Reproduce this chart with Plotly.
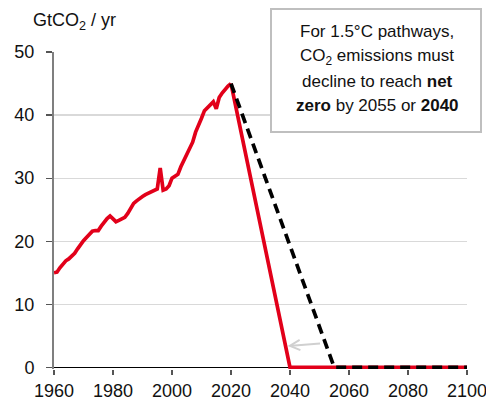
import plotly.graph_objects as go

# Historical CO2 emissions (GtCO2/yr)
hist_years = list(range(1960, 2021))
hist_values = [
    15.0, 15.1, 15.8, 16.4, 16.9, 17.2, 17.6, 18.1, 18.8, 19.5,
    20.1, 20.6, 21.1, 21.6, 21.7, 21.7, 22.4, 23.1, 23.6, 24.0,
    23.6, 23.1, 23.3, 23.5, 23.8, 24.4, 25.1, 26.0, 26.4, 26.8,
    27.1, 27.4, 27.6, 27.9, 28.1, 28.3, 31.6, 28.1, 28.3, 28.8,
    30.0, 30.3, 30.6, 31.8, 32.7, 33.6, 34.5, 35.7, 37.3, 38.3,
    39.5, 40.7, 41.2, 41.5, 42.1, 41.0, 42.8, 43.5, 44.1, 44.6,
    45.0,
]

# 1.5°C pathway to net zero by 2040 (red)
path2040_years = [2020, 2040, 2100]
path2040_values = [45.0, 0.0, 0.0]

# 1.5°C pathway to net zero by 2055 (black dashed)
path2055_years = [2020, 2055, 2100]
path2055_values = [45.0, 0.0, 0.0]

x_ticks = [1960, 1980, 2000, 2020, 2040, 2060, 2080, 2100]
y_ticks = [0, 10, 20, 30, 40, 50]

box_lines = [
    "For 1.5°C pathways,",
    "CO<sub>2</sub> emissions must",
    "decline to reach <b>net</b>",
    "<b>zero</b> by 2055 or <b>2040</b>",
]

RED = "#E2001A"
FONT = "Liberation Sans, Arial, sans-serif"
FS = 18
FS_BOX = 17

fig = go.Figure()
fig.add_trace(go.Scatter(x=hist_years, y=hist_values, mode="lines",
                         line=dict(color=RED, width=3.7), hoverinfo="skip"))
fig.add_trace(go.Scatter(x=path2040_years, y=path2040_values, mode="lines",
                         line=dict(color=RED, width=3.7), hoverinfo="skip"))
fig.add_trace(go.Scatter(x=path2055_years, y=path2055_values, mode="lines",
                         line=dict(color="black", width=3.7, dash="10px,6px"),
                         hoverinfo="skip"))

W, H = 486, 409
L, R, T, B = 54, 19, 52, 40
pw, ph = W - L - R, H - T - B

def px_x(p):
    return (p - L) / pw

def px_y(p):
    return (H - B - p) / ph

annotations = [
    dict(
        text="GtCO<sub>2</sub> / yr", xref="paper", yref="paper",
        x=px_x(31), y=px_y(22), xanchor="left", yanchor="middle",
        showarrow=False, font=dict(family=FONT, size=FS, color="#111111"),
    ),
    # the framed box
    dict(
        text="", xref="paper", yref="paper",
        x=px_x(376), y=px_y(70.5), xanchor="center", yanchor="middle",
        showarrow=False, width=206, height=119, borderpad=1,
        bgcolor="white", bordercolor="#BFBFBF", borderwidth=2,
    ),
    dict(
        x=2039.2, y=3.4, ax=2050.7, ay=3.8, xref="x", yref="y",
        axref="x", ayref="y", text="", showarrow=True,
        arrowhead=5, arrowsize=1, arrowwidth=2, arrowcolor="#D0D0D0",
    ),
]
line_centers = [32, 56.5, 81, 105.5]
for txt, cy in zip(box_lines, line_centers):
    annotations.append(dict(
        text=txt, xref="paper", yref="paper",
        x=px_x(377), y=px_y(cy), xanchor="center", yanchor="middle",
        showarrow=False, font=dict(family=FONT, size=FS_BOX, color="#111111"),
    ))

fig.update_layout(
    width=W, height=H,
    margin=dict(l=L, r=R, t=T, b=B, pad=0, autoexpand=False),
    paper_bgcolor="white", plot_bgcolor="white",
    showlegend=False,
    font=dict(family=FONT, size=FS, color="#111111"),
    xaxis=dict(
        range=[1960, 2100], tickvals=x_ticks, ticktext=[str(v) for v in x_ticks],
        showgrid=False, zeroline=False,
        showline=False, automargin=False,
        ticks="outside", ticklen=5, tickwidth=1.2, tickcolor="#555555",
        tickfont=dict(family=FONT, size=FS, color="#111111"),
        ticklabelstandoff=0, ticklabeloverflow="allow",
    ),
    yaxis=dict(
        range=[-0.25, 50], tickvals=y_ticks,
        showgrid=True, gridcolor="#D9D9D9", gridwidth=1.3,
        zeroline=True, zerolinecolor="black", zerolinewidth=1.2,
        showline=True, linecolor="#7F7F7F", linewidth=2, automargin=False,
        ticks="outside", ticklen=6, tickwidth=1.2, tickcolor="#555555",
        tickfont=dict(family=FONT, size=FS, color="#111111"),
        ticklabelstandoff=8,
    ),
    annotations=annotations,
)

fig.write_html(
    "out.html",
    config={"displayModeBar": False, "staticPlot": True},
    post_script="document.body.style.margin='0';document.body.style.overflow='hidden';",
)
